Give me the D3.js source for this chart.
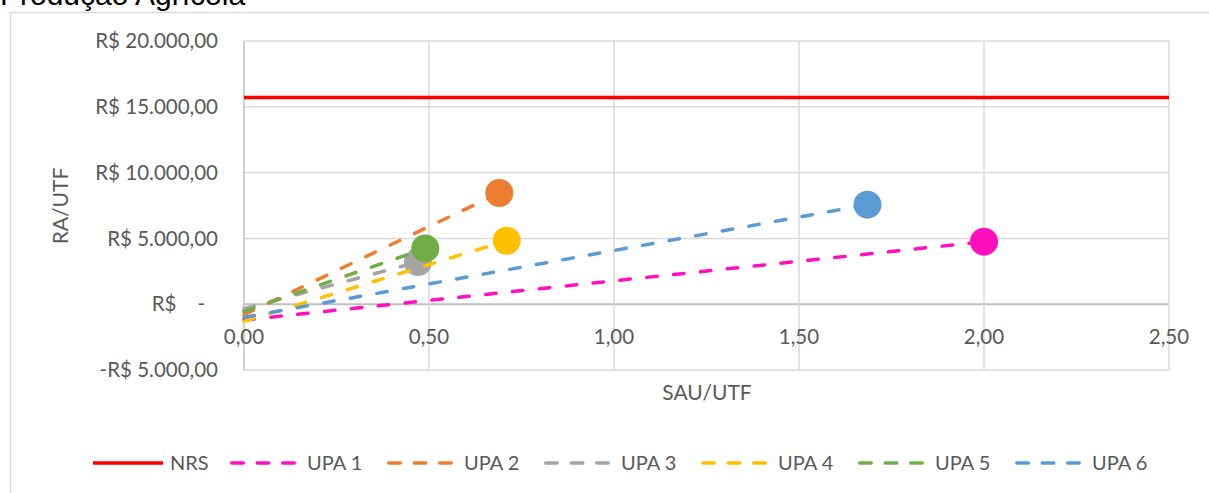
<!DOCTYPE html>
<html><head><meta charset="utf-8">
<script src="https://cdn.jsdelivr.net/npm/d3@7"></script>
<style>
html,body{margin:0;padding:0;background:#fff;overflow:hidden;}
svg{display:block;}
text{font-family:Lato,"Open Sans",sans-serif;fill:#595959;}
</style></head>
<body>
<svg id="c" width="1209" height="493"></svg>
<script>
// ---- data ----
const seriesNames = ["UPA 1","UPA 2","UPA 3","UPA 4","UPA 5","UPA 6"];
const seriesColors = ["#ff0fbe","#ed7d31","#a5a5a5","#ffc000","#70ad47","#5b9bd5"];
const startX = [0,0,0,0,0,0];
const startY = [-1200,-800,-350,-1300,-550,-1000];
const endX = [2.00,0.69,0.47,0.71,0.49,1.685];
const endY = [4750,8450,3200,4820,4240,7560];
const nrsValue = 15700;
const nrsX = [0,2.5];
const xTicks = [0,0.5,1,1.5,2,2.5];
const xTickLabels = ["0,00","0,50","1,00","1,50","2,00","2,50"];
const yTicks = [-5000,0,5000,10000,15000,20000];
const yTickLabels = ["-R$ 5.000,00","R$ -","R$ 5.000,00","R$ 10.000,00","R$ 15.000,00","R$ 20.000,00"];
const legendNames = ["NRS"].concat(seriesNames);
const legendColors = ["#ff0000"].concat(seriesColors);

const svg = d3.select("#c");
const x = d3.scaleLinear().domain([0,2.5]).range([244,1169]);
const y = d3.scaleLinear().domain([-5000,20000]).range([370,41]);

// title (cut off at top, as in the reference)
svg.append("text").attr("x",0).attr("y",5).text("Produção Agrícola")
  .style("font-family","'Liberation Sans',Arial,sans-serif").style("font-size","30px").style("fill","#000");

// outer chart border
svg.append("rect").attr("x",10.5).attr("y",12.5).attr("width",1300).attr("height",600)
  .attr("fill","none").attr("stroke","#d9d9d9").attr("stroke-width",1.5);

// gridlines
const g = svg.append("g");
g.selectAll("line.h").data(yTicks).enter().append("line")
  .attr("x1",x(0)).attr("x2",x(2.5)).attr("y1",d=>y(d)).attr("y2",d=>y(d))
  .attr("stroke",d=>d===0?"#bfbfbf":"#d9d9d9").attr("stroke-width",d=>d===0?2:1.5);
g.selectAll("line.v").data(xTicks).enter().append("line")
  .attr("x1",d=>x(d)).attr("x2",d=>x(d)).attr("y1",y(-5000)).attr("y2",y(20000))
  .attr("stroke",d=>d===0?"#bfbfbf":"#d9d9d9").attr("stroke-width",1.5);

// y tick labels
svg.selectAll("text.yl").data(yTicks).enter().append("text")
  .attr("x",(d,i)=>yTickLabels[i]==="R$ -"?205:218).attr("y",d=>y(d)).attr("dy","0.35em")
  .attr("text-anchor","end").style("font-size","20.5px").style("white-space","pre")
  .text((d,i)=>yTickLabels[i]==="R$ -"?"R$    -":yTickLabels[i]);

// x tick labels
svg.selectAll("text.xl").data(xTicks).enter().append("text")
  .attr("x",d=>x(d)).attr("y",344).attr("text-anchor","middle").style("font-size","20.5px")
  .text((d,i)=>xTickLabels[i]);

// axis titles
svg.append("text").attr("transform","translate(68,206) rotate(-90)").attr("text-anchor","middle")
  .style("font-size","21px").text("RA/UTF");
svg.append("text").attr("x",707).attr("y",400).attr("text-anchor","middle")
  .style("font-size","21px").text("SAU/UTF");

// NRS line
svg.append("line").attr("x1",x(nrsX[0])).attr("x2",x(nrsX[1])).attr("y1",y(nrsValue)).attr("y2",y(nrsValue))
  .attr("stroke","#ff0000").attr("stroke-width",3.5);

// series
seriesNames.forEach((n,i)=>{
  const sg = svg.append("g");
  sg.append("line").attr("x1",x(startX[i])).attr("y1",y(startY[i])).attr("x2",x(endX[i])).attr("y2",y(endY[i]))
    .attr("stroke",seriesColors[i]).attr("stroke-width",3.5).attr("stroke-dasharray","10.5,16.5").attr("stroke-linecap","round");
  sg.append("circle").attr("cx",x(endX[i])).attr("cy",y(endY[i])).attr("r",14).attr("fill",seriesColors[i]);
});

// legend
const ly = 463;
legendNames.forEach((n,i)=>{
  const lx = i===0?93:93+137+(i-1)*157;
  if(i===0){
    svg.append("line").attr("x1",lx).attr("x2",lx+70).attr("y1",ly).attr("y2",ly)
      .attr("stroke",legendColors[i]).attr("stroke-width",3.5);
  } else {
    svg.append("line").attr("x1",lx+1.75).attr("x2",lx+68).attr("y1",ly).attr("y2",ly)
      .attr("stroke",legendColors[i]).attr("stroke-width",3.5).attr("stroke-dasharray","11.5,14").attr("stroke-linecap","round");
  }
  svg.append("text").attr("x",lx+77).attr("y",ly).attr("dy","0.35em").style("font-size","20px").text(n);
});
</script>
</body></html>
